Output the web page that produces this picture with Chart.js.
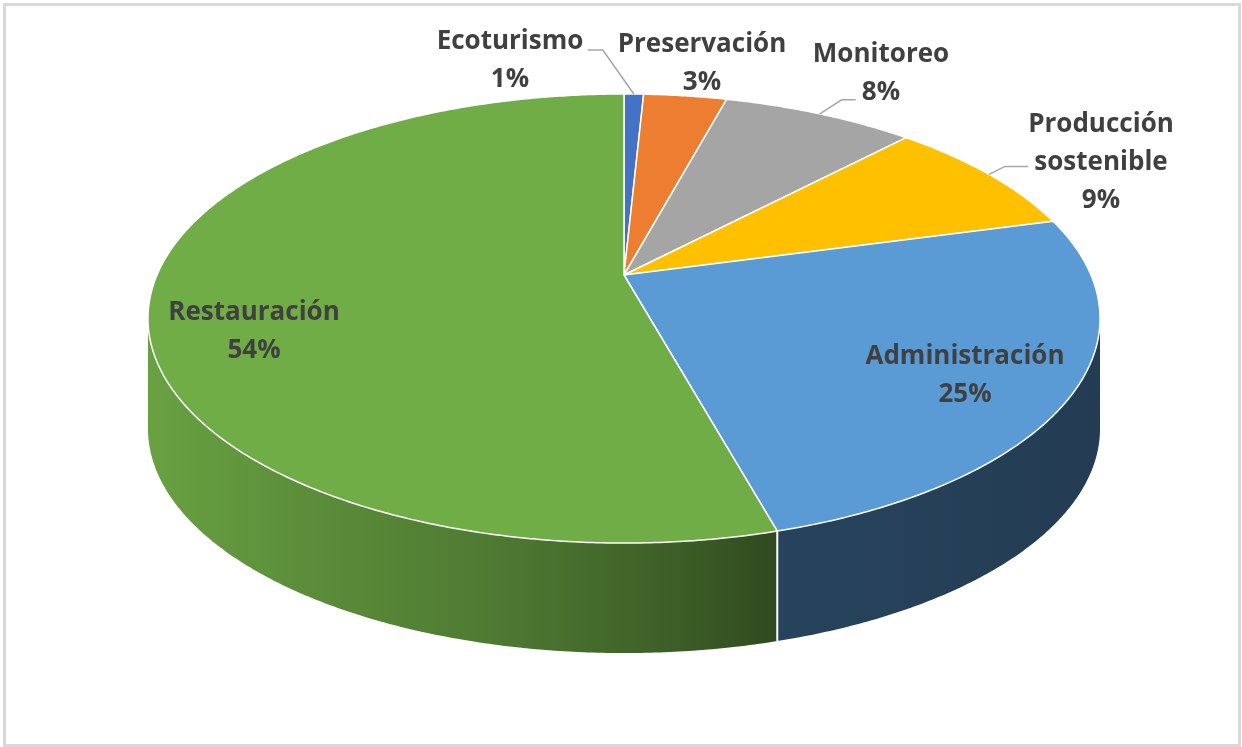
<!DOCTYPE html>
<html>
<head>
<meta charset="utf-8">
<script src="https://cdn.jsdelivr.net/npm/chart.js@4.4.1/dist/chart.umd.min.js"></script>
<style>
  html, body { margin: 0; padding: 0; background: #fff; }
  canvas { display: block; }
</style>
</head>
<body>
<canvas id="pieChart" width="1242" height="747"></canvas>
<script>
const categories = ["Ecoturismo", "Preservación", "Monitoreo", "Producción sostenible", "Administración", "Restauración"];
const shares = [0.8, 3.4, 7.9, 8.7, 24.9, 54.3];
const sliceColors = ["#4472c4", "#ed7d31", "#a5a5a5", "#ffc000", "#5b9bd5", "#70ad47"];

// perspective of the tilted disc (screen pixels)
const view = { cx: 624, cy: 275, a: 467, b: 216.1, k: 0.1938, depth: 110 };

// where each label sits: baseline of first line, optional leader [dx, dy, run]
const labelSpots = [
    { x: 510, y: 49, leader: [-31, -44, -15] },
    { x: 702, y: 52 },
    { x: 881, y: 62, leader: [22, -14, 14] },
    { x: 1101, y: 132, leader: [16, -8, 23] },
    { x: 965, y: 364 },
    { x: 254, y: 320 },
];

// t measured clockwise from 12 o'clock, r = 0..1 of radius
function project(t, r, dz) {
    const u = r * Math.sin(t), v = r * Math.cos(t);
    const w = 1 + view.k * v;
    return [view.cx + view.a * u / w, view.cy - view.b * v / w + (dz || 0)];
}

function shade(hex, f) {
    const n = parseInt(hex.slice(1), 16);
    const r = Math.round(((n >> 16) & 255) * f);
    const g = Math.round(((n >> 8) & 255) * f);
    const b = Math.round((n & 255) * f);
    return `rgb(${r},${g},${b})`;
}

function traceRim(ctx, t0, t1, dz, first) {
    const steps = Math.max(2, Math.ceil(Math.abs(t1 - t0) * 120));
    for (let i = 0; i <= steps; i++) {
        const p = project(t0 + (t1 - t0) * i / steps, 1, dz);
        if (i === 0 && first) ctx.moveTo(p[0], p[1]);
        else ctx.lineTo(p[0], p[1]);
    }
}

const sideStops = [[0, 0.93], [0.16, 0.82], [0.37, 0.70], [0.58, 0.52], [0.66, 0.43], [1, 0.39]];

const pie3d = {
    id: "pie3d",
    beforeDatasetsDraw(chart) {
        const ctx = chart.ctx;
        const arcs = chart.getDatasetMeta(0).data;
        const sideMin = Math.acos(-view.k);
        const sideMax = 2 * Math.PI - sideMin;
        const slices = arcs.map((arc, i) => ({
            s: arc.startAngle + Math.PI / 2,
            e: arc.endAngle + Math.PI / 2,
            color: arc.options.backgroundColor || sliceColors[i],
        }));

        ctx.save();
        // side walls
        slices.forEach((sl) => {
            const a = Math.max(sl.s, sideMin), b = Math.min(sl.e, sideMax);
            if (a >= b) return;
            const grad = ctx.createLinearGradient(148, 0, 1100, 0);
            sideStops.forEach(([o, f]) => grad.addColorStop(o, shade(sl.color, f)));
            ctx.beginPath();
            traceRim(ctx, a, b, 0, true);
            traceRim(ctx, b, a, view.depth, false);
            ctx.closePath();
            ctx.fillStyle = grad;
            ctx.fill();
        });
        // white seams between side walls
        ctx.strokeStyle = "#ffffff";
        ctx.lineWidth = 2;
        slices.forEach((sl) => {
            if (sl.s > sideMin && sl.s < sideMax) {
                const p = project(sl.s, 1, 0), q = project(sl.s, 1, view.depth);
                ctx.beginPath();
                ctx.moveTo(p[0], p[1]);
                ctx.lineTo(q[0], q[1]);
                ctx.stroke();
            }
        });
        // top faces
        ctx.lineJoin = "round";
        slices.forEach((sl) => {
            const c = project(0, 0, 0);
            ctx.beginPath();
            ctx.moveTo(c[0], c[1]);
            traceRim(ctx, sl.s, sl.e, 0, false);
            ctx.closePath();
            ctx.fillStyle = sl.color;
            ctx.fill();
            ctx.strokeStyle = "#ffffff";
            ctx.lineWidth = 1.5;
            ctx.stroke();
        });
        ctx.restore();
        return false;
    },
    afterDraw(chart) {
        const ctx = chart.ctx;
        const arcs = chart.getDatasetMeta(0).data;
        const total = shares.reduce((s, v) => s + v, 0);
        ctx.save();
        // frame
        ctx.strokeStyle = "#d9d9d9";
        ctx.lineWidth = 3;
        ctx.strokeRect(4.5, 4.5, 1235, 741);

        ctx.font = "bold 26px 'Open Sans'";
        ctx.fillStyle = "#404040";
        ctx.textAlign = "center";
        ctx.textBaseline = "alphabetic";
        arcs.forEach((arc, i) => {
            const spot = labelSpots[i];
            const lines = categories[i].split(" ");
            lines.push(Math.round(shares[i] / total * 100) + "%");
            lines.forEach((txt, j) => ctx.fillText(txt, spot.x, spot.y + j * 38));
            if (spot.leader) {
                const mid = (arc.startAngle + arc.endAngle) / 2 + Math.PI / 2;
                const p = project(mid, 1, 0);
                const ex = p[0] + spot.leader[0], ey = p[1] + spot.leader[1];
                ctx.beginPath();
                ctx.moveTo(p[0], p[1]);
                ctx.lineTo(ex, ey);
                ctx.lineTo(ex + spot.leader[2], ey);
                ctx.strokeStyle = "#a6a6a6";
                ctx.lineWidth = 1.5;
                ctx.stroke();
            }
        });
        ctx.restore();
    },
};

new Chart(document.getElementById("pieChart").getContext("2d"), {
    type: "pie",
    data: {
        labels: categories,
        datasets: [{
            data: shares,
            backgroundColor: sliceColors,
            borderColor: "#ffffff",
            borderWidth: 1.5,
        }],
    },
    options: {
        responsive: false,
        animation: false,
        plugins: {
            legend: { display: false },
            tooltip: { enabled: false },
        },
    },
    plugins: [pie3d],
});
</script>
</body>
</html>
